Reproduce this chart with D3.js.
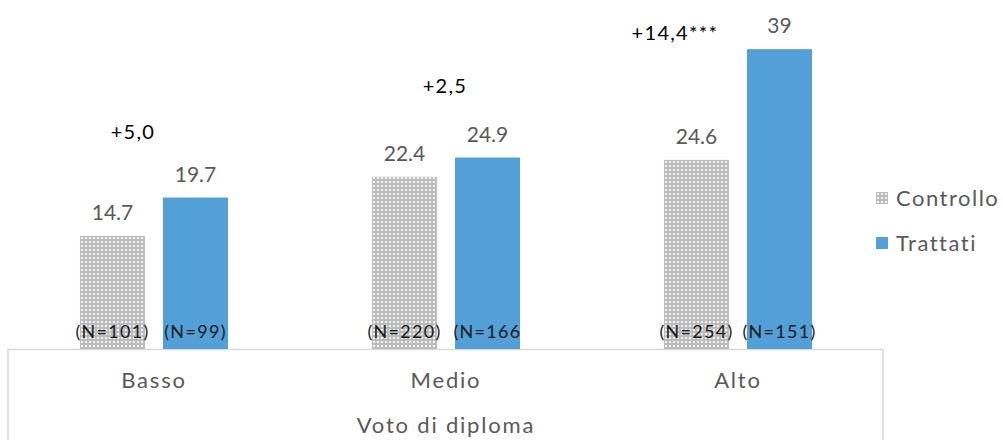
<!DOCTYPE html>
<html>
<head>
<meta charset="utf-8">
<script src="https://cdn.jsdelivr.net/npm/d3@7"></script>
<style>
  html, body { margin: 0; padding: 0; background: #fff; }
  svg { display: block; }
</style>
</head>
<body>
<div id="chart"></div>
<script>
// Dati
const categories = ['Basso', 'Medio', 'Alto'];
const series = ['Controllo', 'Trattati'];
const controllo = [14.7, 22.4, 24.6];
const trattati = [19.7, 24.9, 39];
const valueLabels = [['14.7', '19.7'], ['22.4', '24.9'], ['24.6', '39']];
const nLabels = [['(N=101)', '(N=99)'], ['(N=220)', '(N=166'], ['(N=254)', '(N=151)']];
const diffLabels = ['+5,0', '+2,5', '+14,4***'];
const axisTitle = 'Voto di diploma';

const width = 1003;
const height = 440;
const font = 'Lato, "Open Sans", sans-serif';

const svg = d3.select('#chart')
  .append('svg')
  .attr('width', width)
  .attr('height', height);

// motivo puntinato per il gruppo di controllo
const defs = svg.append('defs');
const pat = defs.append('pattern')
  .attr('id', 'dots')
  .attr('patternUnits', 'userSpaceOnUse')
  .attr('width', 4)
  .attr('height', 4);
pat.append('rect').attr('width', 4).attr('height', 4).attr('fill', '#bcbcbc');
pat.append('rect').attr('x', 1).attr('y', 1).attr('width', 2).attr('height', 2).attr('fill', '#f4f4f4');

const fills = { Controllo: 'url(#dots)', Trattati: '#539fd8' };

// scale
const x0 = d3.scaleBand()
  .domain(categories)
  .range([8, 884])
  .paddingInner(0.493)
  .paddingOuter(0.2465);

const x1 = d3.scaleBand()
  .domain(series)
  .range([0, x0.bandwidth()])
  .paddingInner(0.217);

const y = d3.scaleLinear()
  .domain([0, 45])
  .range([349, 3]);

const rows = categories.map((c, i) => ({
  cat: c,
  i,
  bars: [
    { s: 'Controllo', v: controllo[i], label: valueLabels[i][0], n: nLabels[i][0] },
    { s: 'Trattati', v: trattati[i], label: valueLabels[i][1], n: nLabels[i][1] }
  ]
}));

// riquadro dell'asse (multilivello)
svg.append('path')
  .attr('d', `M${x0.range()[0]},${height + 2}V${y(0) + 0.5}H${x0.range()[1] - 1}V${height + 2}`)
  .attr('fill', 'none')
  .attr('stroke', '#d9d9d9')
  .attr('stroke-width', 1.5);

// barre
const group = svg.append('g')
  .selectAll('g')
  .data(rows)
  .join('g')
  .attr('transform', d => `translate(${x0(d.cat)},0)`);

group.selectAll('rect')
  .data(d => d.bars)
  .join('rect')
  .attr('x', d => x1(d.s))
  .attr('y', d => y(d.v))
  .attr('width', x1.bandwidth())
  .attr('height', d => y(0) - y(d.v))
  .attr('fill', d => fills[d.s]);

// valori sopra le barre
group.selectAll('text.val')
  .data(d => d.bars)
  .join('text')
  .attr('class', 'val')
  .attr('x', d => x1(d.s) + x1.bandwidth() / 2)
  .attr('y', d => y(d.v) - 16)
  .attr('text-anchor', 'middle')
  .style('font-family', font)
  .style('font-size', '21px')
  .style('fill', '#595959')
  .text(d => d.label);

// numerosità
group.selectAll('text.n')
  .data(d => d.bars)
  .join('text')
  .attr('class', 'n')
  .attr('x', d => x1(d.s) + x1.bandwidth() / 2)
  .attr('y', 338)
  .attr('text-anchor', 'middle')
  .style('font-family', font)
  .style('font-size', '18px')
  .style('letter-spacing', '1.3px')
  .style('fill', '#1a1a1a')
  .text(d => d.n);

// differenze (caselle di testo posizionate a mano)
const diffPos = [
  { dx: -21, top: 27.3 },
  { dx: -1, top: 33.3 },
  { dx: -63, top: 40.2 }
];
svg.append('g')
  .selectAll('text')
  .data(rows)
  .join('text')
  .attr('x', d => x0(d.cat) + x0.bandwidth() / 2 + diffPos[d.i].dx)
  .attr('y', d => y(diffPos[d.i].top))
  .attr('text-anchor', 'middle')
  .style('font-family', font)
  .style('font-size', '20px')
  .style('letter-spacing', '1.3px')
  .style('fill', '#000')
  .text(d => diffLabels[d.i]);

// etichette delle categorie
svg.append('g')
  .selectAll('text')
  .data(categories)
  .join('text')
  .attr('x', d => x0(d) + x0.bandwidth() / 2)
  .attr('y', 388)
  .attr('text-anchor', 'middle')
  .style('font-family', font)
  .style('font-size', '22px')
  .style('letter-spacing', '1.8px')
  .style('fill', '#595959')
  .text(d => d);

svg.append('text')
  .attr('x', (x0.range()[0] + x0.range()[1]) / 2)
  .attr('y', 433)
  .attr('text-anchor', 'middle')
  .style('font-family', font)
  .style('font-size', '22px')
  .style('letter-spacing', '1.8px')
  .style('fill', '#595959')
  .text(axisTitle);

// legenda
const legend = svg.append('g')
  .selectAll('g')
  .data(series)
  .join('g')
  .attr('transform', (d, i) => `translate(876,${192 + i * 45})`);

legend.append('rect')
  .attr('width', 12)
  .attr('height', 12)
  .attr('fill', d => fills[d]);

legend.append('text')
  .attr('x', 20)
  .attr('y', 6)
  .attr('dy', '0.35em')
  .style('font-family', font)
  .style('font-size', '22px')
  .style('letter-spacing', '1.5px')
  .style('fill', '#595959')
  .text(d => d);
</script>
</body>
</html>
